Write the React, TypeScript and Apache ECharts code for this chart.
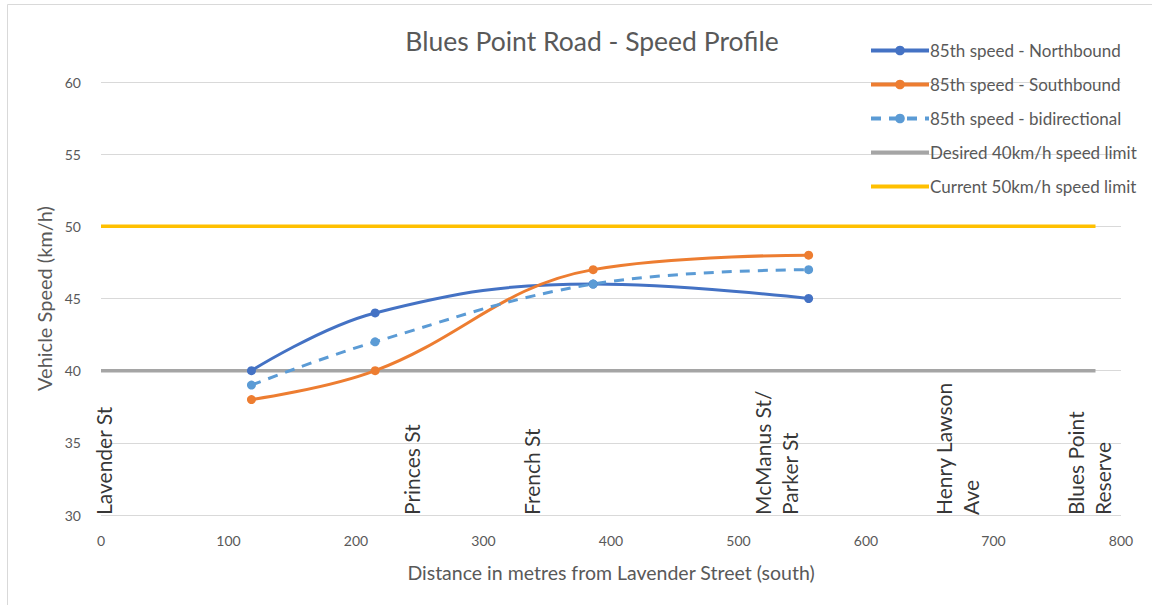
import React, { useEffect, useRef } from "react";
import * as echarts from "echarts";

const distances = [118, 215, 386, 555];
const northbound = [40, 44, 46, 45];
const southbound = [38, 40, 47, 48];
const bidirectional = [39, 42, 46, 47];
const limitX = [0, 780];
const desiredLimit = [40, 40];
const currentLimit = [50, 50];
const streetNames = ["Lavender St", "Princes St", "French St", "McManus St/\nParker St", "Henry Lawson\nAve", "Blues Point\nReserve"];
const streetX = [0, 242, 336, 528, 670, 773];

const FONT = "Lato, 'Open Sans', sans-serif";

export default function App() {
  const ref = useRef<HTMLDivElement>(null);
  useEffect(() => {
    const chart = echarts.init(ref.current!, null, { renderer: "svg" });
    const pairs = (xs: number[], ys: number[]) => xs.map((x, i) => [x, ys[i]]);
    const plainIcon = (name: string) => ({
      name,
      itemStyle: { color: "rgba(0,0,0,0)", borderWidth: 0, opacity: 0 },
      lineStyle: { width: 4 },
    });
    const markIcon = (name: string) => ({ name, lineStyle: { width: 4 } });
    chart.setOption({
      animation: false,
      textStyle: { fontFamily: FONT },
      title: {
        text: "Blues Point Road - Speed Profile",
        left: 587,
        top: 22,
        textAlign: "center",
        textStyle: { color: "#595959", fontSize: 26.5, fontWeight: "normal", fontFamily: FONT },
      },
      graphic: [
        {
          type: "line",
          shape: { x1: 7.5, y1: 4.5, x2: 1152, y2: 4.5 },
          style: { stroke: "#d9d9d9", lineWidth: 1 },
          silent: true,
        },
        {
          type: "line",
          shape: { x1: 7.5, y1: 4.5, x2: 7.5, y2: 605 },
          style: { stroke: "#d9d9d9", lineWidth: 1 },
          silent: true,
        },
      ],
      legend: {
        orient: "vertical",
        left: 864,
        top: 37,
        itemWidth: 58,
        itemHeight: 12,
        itemGap: 17,
        textStyle: { color: "#595959", fontSize: 17, fontFamily: FONT, padding: [0, 0, 0, -4] },
        data: [
          markIcon("85th speed - Northbound"),
          markIcon("85th speed - Southbound"),
          markIcon("85th speed - bidirectional"),
          plainIcon("Desired 40km/h speed limit"),
          plainIcon("Current 50km/h speed limit"),
        ],
      },
      grid: { left: 101, right: 31, top: 82, bottom: 90, containLabel: false },
      xAxis: {
        type: "value",
        min: 0,
        max: 800,
        interval: 100,
        name: "Distance in metres from Lavender Street (south)",
        nameLocation: "middle",
        nameGap: 47,
        nameTextStyle: { color: "#595959", fontSize: 19.5, fontFamily: FONT },
        axisLine: { show: false },
        axisTick: { show: false },
        splitLine: { show: false },
        axisLabel: { color: "#595959", fontSize: 14, margin: 18, fontFamily: FONT },
      },
      yAxis: {
        type: "value",
        min: 30,
        max: 60,
        interval: 5,
        name: "Vehicle Speed (km/h)",
        nameLocation: "middle",
        nameGap: 42,
        nameTextStyle: { color: "#595959", fontSize: 20, fontFamily: FONT },
        axisLine: { show: false },
        axisTick: { show: false },
        splitLine: { lineStyle: { color: "#d9d9d9", width: 1 } },
        axisLabel: { color: "#595959", fontSize: 14, margin: 20, fontFamily: FONT },
      },
      series: [
        {
          name: "Desired 40km/h speed limit",
          type: "line",
          data: pairs(limitX, desiredLimit),
          symbol: "none",
          lineStyle: { color: "#A5A5A5", width: 3.5 },
          itemStyle: { color: "#A5A5A5" },
          z: 1,
        },
        {
          name: "Current 50km/h speed limit",
          type: "line",
          data: pairs(limitX, currentLimit),
          symbol: "none",
          lineStyle: { color: "#FFC000", width: 3.5 },
          itemStyle: { color: "#FFC000" },
          z: 1,
        },
        {
          name: "85th speed - Northbound",
          type: "line",
          data: pairs(distances, northbound),
          smooth: 0.4,
          symbol: "circle",
          symbolSize: 9,
          lineStyle: { color: "#4472C4", width: 3 },
          itemStyle: { color: "#4472C4" },
          z: 3,
        },
        {
          name: "85th speed - Southbound",
          type: "line",
          data: pairs(distances, southbound),
          smooth: 0.4,
          symbol: "circle",
          symbolSize: 9,
          lineStyle: { color: "#ED7D31", width: 3 },
          itemStyle: { color: "#ED7D31" },
          z: 3,
        },
        {
          name: "85th speed - bidirectional",
          type: "line",
          data: pairs(distances, bidirectional),
          smooth: 0.4,
          symbol: "circle",
          symbolSize: 9,
          lineStyle: { color: "#5B9BD5", width: 3, type: [10, 8] },
          itemStyle: { color: "#5B9BD5" },
          z: 3,
        },
        {
          name: "streets",
          type: "scatter",
          data: streetX.map((x, i) => ({ value: [x, 30], name: streetNames[i] })),
          symbolSize: 1,
          itemStyle: { color: "rgba(0,0,0,0)" },
          silent: true,
          label: {
            show: true,
            position: "inside",
            formatter: (p: any) => p.name,
            rotate: 90,
            align: "left",
            verticalAlign: "middle",
            offset: [0, 2],
            color: "#000000",
            fontSize: 21,
            lineHeight: 27,
            fontFamily: FONT,
          },
          z: 2,
        },
      ],
    });
    return () => chart.dispose();
  }, []);
  return (
    <div
      ref={ref}
      style={{ position: "fixed", left: 0, top: 0, width: 1152, height: 605, background: "#fff" }}
    />
  );
}
